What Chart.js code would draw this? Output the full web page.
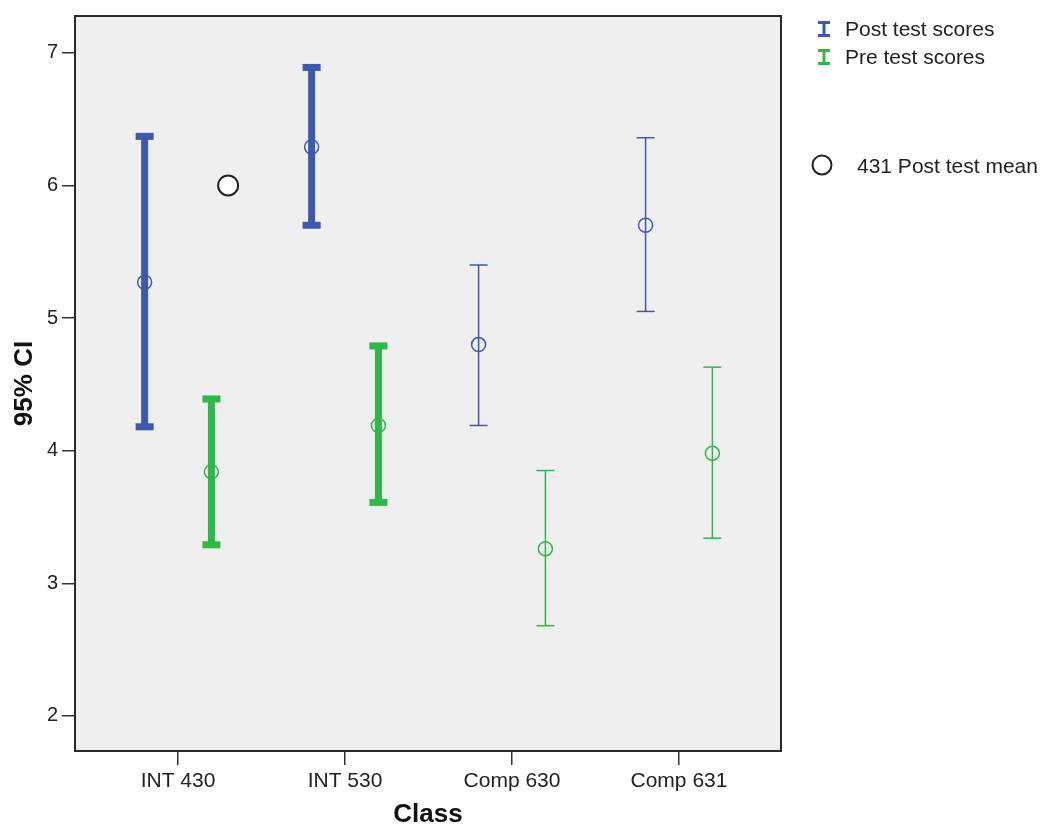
<!DOCTYPE html>
<html><head><meta charset="utf-8">
<script src="https://cdn.jsdelivr.net/npm/chart.js@4.4.1/dist/chart.umd.min.js"></script>
<style>
html,body{margin:0;padding:0;background:#fff;}
#wrap{position:relative;width:1052px;height:830px;overflow:hidden;}
#c{position:absolute;left:0;top:0;}
.lg{position:absolute;font-family:"Liberation Sans",Arial,sans-serif;font-size:21px;color:#222;white-space:nowrap;line-height:24px;}
.ic{position:absolute;}
</style></head><body>
<div id="wrap">
<canvas id="c" width="1052" height="830"></canvas>
<svg class="ic" style="left:818px;top:21px" width="12" height="16"><rect x="0" y="0" width="12" height="3" fill="#3E58AC"/><rect x="4.5" y="0" width="3" height="16" fill="#3E58AC"/><rect x="0" y="13" width="12" height="3" fill="#3E58AC"/></svg>
<div class="lg" style="left:845px;top:17px">Post test scores</div>
<svg class="ic" style="left:818px;top:49px" width="12" height="16"><rect x="0" y="0" width="12" height="3" fill="#2EB848"/><rect x="4.5" y="0" width="3" height="16" fill="#2EB848"/><rect x="0" y="13" width="12" height="3" fill="#2EB848"/></svg>
<div class="lg" style="left:845px;top:45px">Pre test scores</div>
<svg class="ic" style="left:811px;top:154px" width="22" height="22"><circle cx="11" cy="11" r="9.5" fill="#fff" stroke="#222" stroke-width="2"/></svg>
<div class="lg" style="left:857px;top:154px">431 Post test mean</div>
</div>
<script>
const categories = ['INT 430', 'INT 530', 'Comp 630', 'Comp 631'];
const postMean = [5.27, 6.29, 4.80, 5.70];
const postLow  = [4.18, 5.70, 4.19, 5.05];
const postHigh = [6.37, 6.89, 5.40, 6.36];
const preMean  = [3.84, 4.19, 3.26, 3.98];
const preLow   = [3.29, 3.61, 2.68, 3.34];
const preHigh  = [4.39, 4.79, 3.85, 4.63];
const thickBars = [true, true, false, false];
const extraMeanPos = [0.3];
const extraMeanVal = [6.0];
const yTicks = [2, 3, 4, 5, 6, 7];

const BLUE = '#3E58AC', GREEN = '#2EB848';
const POST_OFF = -0.2, PRE_OFF = 0.2;
const FONT = '"Liberation Sans", Arial, sans-serif';

function whiskers(lo, hi, off) {
  const d = [];
  categories.forEach((c, i) => {
    d.push({x: i + off, y: lo[i]});
    d.push({x: i + off, y: hi[i]});
    d.push({x: i + off, y: null});
  });
  return d;
}
function means(m, off) { return categories.map((c, i) => ({x: i + off, y: m[i]})); }
function whiskerDataset(label, lo, hi, off, color) {
  return {
    label, data: whiskers(lo, hi, off), showLine: true, spanGaps: false,
    borderColor: color, backgroundColor: color, borderWidth: 1.5,
    segment: { borderWidth: ctx => thickBars[Math.floor(ctx.p0DataIndex / 3)] ? 7 : 1.5 },
    pointStyle: 'line',
    pointRadius: ctx => (ctx.raw && ctx.raw.y != null) ? 9 : 0,
    pointBorderWidth: ctx => thickBars[Math.floor(ctx.dataIndex / 3)] ? 7 : 1.5,
    pointBorderColor: color, order: 2
  };
}
function meanDataset(label, m, off, color) {
  return {
    label, data: means(m, off), showLine: false,
    pointStyle: 'circle', pointRadius: 7, pointBorderWidth: 1.5,
    pointBorderColor: color, pointBackgroundColor: 'rgba(0,0,0,0)', order: 1
  };
}

const framePlugin = {
  id: 'frame',
  beforeDraw(chart) {
    const {ctx, chartArea: a} = chart;
    ctx.save(); ctx.fillStyle = '#EFEFEF';
    ctx.fillRect(a.left, a.top, a.right - a.left, a.bottom - a.top); ctx.restore();
  },
  afterDraw(chart) {
    const {ctx, chartArea: a} = chart;
    ctx.save(); ctx.strokeStyle = '#2a2a2a'; ctx.lineWidth = 2;
    ctx.strokeRect(a.left, a.top, a.right - a.left, a.bottom - a.top); ctx.restore();
  }
};

new Chart(document.getElementById('c'), {
  type: 'scatter',
  data: {
    datasets: [
      whiskerDataset('Post test scores', postLow, postHigh, POST_OFF, BLUE),
      whiskerDataset('Pre test scores', preLow, preHigh, PRE_OFF, GREEN),
      meanDataset('Post mean', postMean, POST_OFF, BLUE),
      meanDataset('Pre mean', preMean, PRE_OFF, GREEN),
      {
        label: '431 Post test mean',
        data: extraMeanPos.map((x, i) => ({x, y: extraMeanVal[i]})),
        showLine: false, pointStyle: 'circle', pointRadius: 10, pointBorderWidth: 2,
        pointBorderColor: '#222', pointBackgroundColor: '#fff', order: 0
      }
    ]
  },
  options: {
    responsive: false, animation: false, events: [],
    layout: { padding: { left: 0, top: 13, right: 271, bottom: 0 } },
    plugins: { legend: { display: false }, tooltip: { enabled: false } },
    scales: {
      x: {
        type: 'linear', min: -0.617, max: 3.611,
        afterBuildTicks: s => { s.ticks = categories.map((c, i) => ({value: i})); },
        afterFit: s => { s.height = 79; },
        ticks: { autoSkip: false, maxRotation: 0, padding: 4, color: '#222',
          font: { family: FONT, size: 21 }, callback: v => categories[v] },
        grid: { drawOnChartArea: false, drawTicks: true, tickLength: 14, color: '#333', lineWidth: 1.5 },
        border: { display: true, color: '#2a2a2a', width: 2 },
        title: { display: true, text: 'Class', color: '#111', padding: { top: 0, bottom: 0 },
          font: { family: FONT, size: 26, weight: 'bold', lineHeight: 1.2 } }
      },
      y: {
        type: 'linear', min: 1.735, max: 7.278,
        afterBuildTicks: s => { s.ticks = yTicks.map(v => ({value: v})); },
        afterFit: s => { s.width = 75; },
        ticks: { padding: 4, color: '#222', font: { family: FONT, size: 20 } },
        grid: { drawOnChartArea: false, drawTicks: true, tickLength: 13, color: '#333', lineWidth: 1.5 },
        border: { display: true, color: '#2a2a2a', width: 2 },
        title: { display: true, text: '95% CI', color: '#111', padding: { top: 9, bottom: 0 },
          font: { family: FONT, size: 26, weight: 'bold', lineHeight: 1.2 } }
      }
    }
  },
  plugins: [framePlugin]
});
</script>
</body></html>
